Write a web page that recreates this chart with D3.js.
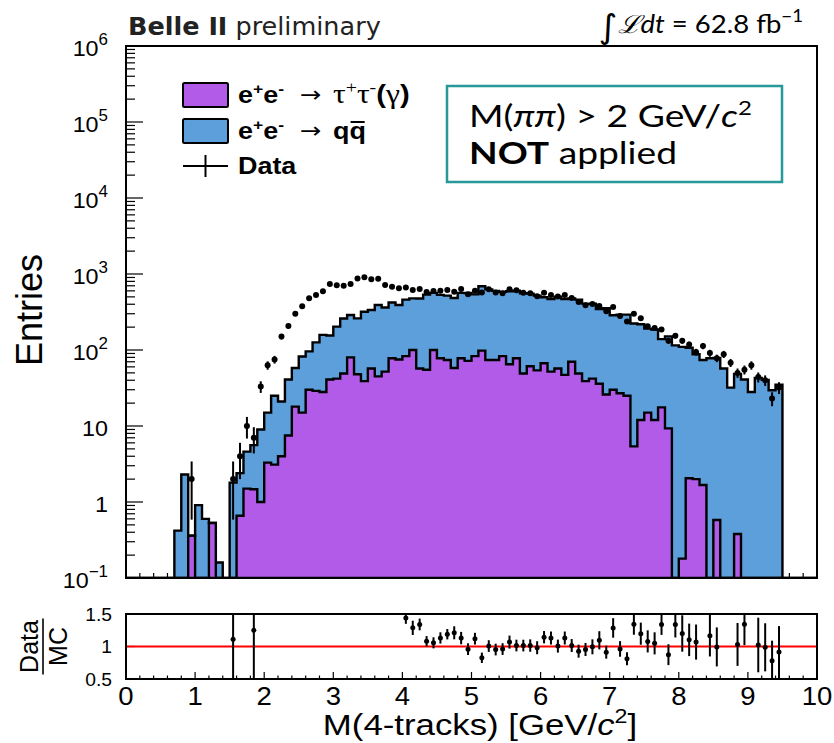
<!DOCTYPE html>
<html>
<head>
<meta charset="utf-8">
<script src="https://cdn.jsdelivr.net/npm/d3@7/dist/d3.min.js"></script>
<style>
  body { margin: 0; background: #fff; }
  svg { display: block; }
</style>
</head>
<body>
<svg id="chart" width="834" height="743"></svg>
<script>
// ---- binning: 100 bins of 0.1 GeV/c^2 from 0 to 10 ----
const xRange = [0, 10];
const binWidth = 0.1;

// e+e- -> tau+tau-(gamma) expectation per bin
const tauTau = [
  0, 0, 0, 0, 0, 0, 0, 0, 0, 0.36,
  0, 0, 0.53, 0, 0, 0, 0.66, 1.5, 1.47, 1.0,
  3.3, 3.1, 4.0, 7.5, 18, 15, 30, 29, 28, 41,
  42, 49, 80, 48, 39, 57, 45, 52, 78, 75,
  83, 100, 57, 55, 100, 78, 74, 58, 78, 72,
  83, 98, 74, 74, 83, 65, 78, 49, 61, 54,
  67, 52, 57, 47, 70, 49, 39, 42, 36, 26,
  30, 27, 25, 5.4, 12, 15, 12, 17.6, 9.3, 0,
  0.18, 2.05, 2.0, 1.67, 0, 0.58, 0, 0, 0.38, 0,
  0, 0, 0, 0, 0, 0, 0, 0, 0, 0
];

// e+e- -> q qbar expectation per bin (stacked on top of tau pairs)
const qqbar = [
  0, 0, 0, 0, 0, 0, 0, 0.42, 2.3, 0,
  0.91, 0.6, 0, 0.16, 0, 1.8, 1.74, 3.1, 4.13, 8.0,
  11.7, 21.9, 17, 33.5, 40, 67, 66, 97, 130, 114,
  161, 211, 209, 213, 280, 279, 346, 310, 344, 316,
  377, 378, 418, 481, 464, 454, 445, 426, 486, 491,
  456, 592, 553, 525, 499, 527, 525, 508, 491, 466,
  428, 416, 446, 421, 406, 411, 369, 364, 309, 329,
  257, 265, 267, 217.6, 206, 176, 174, 121.4, 141.7, 115,
  109.8, 105, 86, 72.3, 78, 77.9, 57, 32, 48.1, 41,
  28, 43, 40.5, 29.5, 35, 0, 0, 0, 0, 0
];

// observed entries per bin
const dataCounts = [
  0, 0, 0, 0, 0, 0, 0, 0, 0, 2,
  0, 0, 0, 0, 0, 2, 4, 10, 7, 33,
  63, 75, 150, 207, 300, 375, 480, 530, 595, 738,
  712, 698, 738, 870, 904, 851, 866, 716, 681, 648,
  662, 615, 636, 579, 596, 602, 617, 586, 637, 540,
  604, 570, 631, 571, 559, 632, 612, 565, 560, 510,
  566, 529, 506, 529, 483, 427, 389, 404, 378, 324,
  369, 281, 237, 299, 261, 206, 195, 186, 132, 154,
  132, 118, 94, 113, 91, 78, 88, 68, 50, 55,
  63, 44, 40, 23, 32, 0, 0, 0, 0, 0
];

// uncertainty on Data/MC per bin (data and MC statistics combined)
const ratioErr = [
  0, 0, 0, 0, 0, 0, 0, 0, 0, 0,
  0, 0, 0, 0, 0, 1.0, 0, 0, 0.8, 0,
  0, 0, 0, 0, 0, 0, 0, 0, 0, 0,
  0, 0, 0, 0, 0, 0, 0, 0, 0, 0,
  0.09, 0.11, 0.09, 0.08, 0.085, 0.087, 0.08, 0.1, 0.095, 0.09,
  0.09, 0.08, 0.09, 0.09, 0.09, 0.1, 0.09, 0.09, 0.095, 0.1,
  0.095, 0.1, 0.1, 0.1, 0.1, 0.1, 0.1, 0.115, 0.14, 0.1,
  0.15, 0.12, 0.1, 0.16, 0.17, 0.17, 0.17, 0.16, 0.16, 0.2,
  0.28, 0.25, 0.27, 0.3, 0.32, 0.3, 0.3, 0.4, 0.33, 0.32,
  0.4, 0.42, 0.37, 0.31, 0.4, 0, 0, 0, 0, 0
];

// axis tick labels
const yPowers = [-1, 0, 1, 2, 3, 4, 5, 6];
const xTickLabels = [0, 1, 2, 3, 4, 5, 6, 7, 8, 9, 10];
const ratioTickLabels = [0.5, 1, 1.5];

// ---- layout ----
const mainBox = { left: 126, right: 817, top: 46, bottom: 578 };
const ratioBox = { left: 126, right: 817, top: 614, bottom: 679 };

const colTau = "#b15be8";
const colQQ = "#5c9fdb";
const sans = "'Liberation Sans', Arial, Helvetica, sans-serif";
const serif = "'Liberation Serif', 'Times New Roman', serif";
const lato = "Lato, 'Open Sans', sans-serif";

const svg = d3.select("#chart");
svg.append("rect").attr("width", 834).attr("height", 743).attr("fill", "#fff");

const x = d3.scaleLinear().domain(xRange).range([mainBox.left, mainBox.right]);
const y = d3.scaleLog().domain([0.1, 1e6]).range([mainBox.bottom, mainBox.top]);
const yr = d3.scaleLinear().domain([0.5, 1.5]).range([ratioBox.bottom, ratioBox.top]);

const defs = svg.append("defs");
defs.append("clipPath").attr("id", "clipMain").append("rect")
  .attr("x", mainBox.left).attr("y", mainBox.top)
  .attr("width", mainBox.right - mainBox.left).attr("height", mainBox.bottom - mainBox.top);
defs.append("clipPath").attr("id", "clipRatio").append("rect")
  .attr("x", ratioBox.left).attr("y", ratioBox.top)
  .attr("width", ratioBox.right - ratioBox.left).attr("height", ratioBox.bottom - ratioBox.top);

const binLo = i => xRange[0] + i * binWidth;
const binHi = i => xRange[0] + (i + 1) * binWidth;
const binMid = i => xRange[0] + (i + 0.5) * binWidth;
const yMin = y.domain()[0];
const yOf = v => (v > yMin ? y(v) : y(yMin));

const totalMC = tauTau.map((t, i) => t + qqbar[i]);

// text anchored at (px, py), optionally widened horizontally
function label(parent, px, py, sx) {
  return parent.append("g")
    .attr("transform", `translate(${px},${py}) scale(${sx || 1},1)`)
    .append("text").attr("x", 0).attr("y", 0);
}

// ---- main panel: axis ticks (drawn underneath the histograms) ----
const gTicks = svg.append("g").attr("stroke", "#000").attr("stroke-width", 1.2);
y.ticks().forEach(t => {
  const lg = Math.log10(t);
  const major = Math.abs(lg - Math.round(lg)) < 1e-9;
  gTicks.append("line")
    .attr("x1", mainBox.left).attr("x2", mainBox.left + (major ? 17 : 9))
    .attr("y1", y(t)).attr("y2", y(t));
});
x.ticks(50).forEach(t => {
  const major = Math.abs(t - Math.round(t)) < 1e-9;
  gTicks.append("line")
    .attr("x1", x(t)).attr("x2", x(t))
    .attr("y1", mainBox.bottom).attr("y2", mainBox.bottom - (major ? 11 : 5));
});

// ---- stacked histograms ----
function stepPath(values) {
  let p = `M${x(binLo(0))},${y(yMin)}`;
  values.forEach((v, i) => {
    const yy = yOf(v);
    p += `L${x(binLo(i))},${yy}L${x(binHi(i))},${yy}`;
  });
  p += `L${x(binHi(values.length - 1))},${y(yMin)}Z`;
  return p;
}

const gHist = svg.append("g").attr("clip-path", "url(#clipMain)");
gHist.append("path").attr("d", stepPath(totalMC))
  .attr("fill", colQQ).attr("stroke", "#000").attr("stroke-width", 2.4);
gHist.append("path").attr("d", stepPath(tauTau))
  .attr("fill", colTau).attr("stroke", "#000").attr("stroke-width", 2.4);

// ---- data points with Poisson errors ----
const gData = svg.append("g").attr("clip-path", "url(#clipMain)");
dataCounts.forEach((n, i) => {
  if (n <= 0) return;
  const e = Math.sqrt(n);
  gData.append("line")
    .attr("x1", x(binMid(i))).attr("x2", x(binMid(i)))
    .attr("y1", yOf(n + e)).attr("y2", yOf(n - e))
    .attr("stroke", "#000").attr("stroke-width", 2);
  gData.append("circle")
    .attr("cx", x(binMid(i))).attr("cy", y(n)).attr("r", 3).attr("fill", "#000");
});

// ---- main frame ----
svg.append("rect")
  .attr("x", mainBox.left).attr("y", mainBox.top)
  .attr("width", mainBox.right - mainBox.left).attr("height", mainBox.bottom - mainBox.top)
  .attr("fill", "none").attr("stroke", "#000").attr("stroke-width", 2);

// y tick labels
const gYLab = svg.append("g").attr("font-family", sans).attr("font-size", 22).attr("fill", "#000");
yPowers.forEach(k => {
  const t = label(gYLab, 108, y(Math.pow(10, k)) + 10, 1.06).attr("text-anchor", "end");
  if (k === 0) t.text("1");
  else if (k === 1) t.text("10");
  else {
    t.append("tspan").text("10");
    t.append("tspan").attr("dy", -11).attr("font-size", 16).text(k < 0 ? "\u2212" + (-k) : String(k));
  }
});

// y title
svg.append("text")
  .attr("transform", `translate(42,310) rotate(-90)`)
  .attr("text-anchor", "middle").attr("font-family", sans).attr("font-size", 36)
  .text("Entries");

// ---- legend ----
const gLeg = svg.append("g").attr("font-family", sans);
const legRows = [95, 131, 166];
gLeg.append("rect").attr("x", 183).attr("y", legRows[0] - 12).attr("width", 45).attr("height", 24)
  .attr("fill", colTau).attr("stroke", "#000").attr("stroke-width", 2).attr("rx", 1.5);
gLeg.append("rect").attr("x", 183).attr("y", legRows[1] - 12).attr("width", 45).attr("height", 24)
  .attr("fill", colQQ).attr("stroke", "#000").attr("stroke-width", 2).attr("rx", 1.5);
gLeg.append("line").attr("x1", 183).attr("x2", 228).attr("y1", legRows[2]).attr("y2", legRows[2])
  .attr("stroke", "#000").attr("stroke-width", 2);
gLeg.append("line").attr("x1", 205.5).attr("x2", 205.5).attr("y1", legRows[2] - 11).attr("y2", legRows[2] + 11)
  .attr("stroke", "#000").attr("stroke-width", 2);

const legSx = 1.17;
// "e+e-  ->" part shared by both process entries
function eeArrow(rowY) {
  const t = label(gLeg, 238, rowY + 8, legSx).attr("font-size", 23).attr("font-weight", "bold");
  t.append("tspan").text("e");
  t.append("tspan").attr("font-size", 15).attr("dy", -9).text("+");
  t.append("tspan").attr("dy", 9).text("e");
  t.append("tspan").attr("font-size", 15).attr("dy", -9).text("-");
  label(gLeg, 300, rowY + 7, legSx).attr("font-family", "'DejaVu Sans', sans-serif")
    .attr("font-size", 22).text("\u2192");
}
eeArrow(legRows[0]);
const r1 = label(gLeg, 333, legRows[0] + 8, legSx).attr("font-size", 23);
r1.append("tspan").attr("font-family", serif).attr("font-size", 27).text("\u03c4");
r1.append("tspan").attr("font-family", serif).attr("font-size", 17).attr("dy", -10).text("+");
r1.append("tspan").attr("font-family", serif).attr("font-size", 27).attr("dy", 10).text("\u03c4");
r1.append("tspan").attr("font-family", serif).attr("font-size", 17).attr("dy", -10).text("-");
r1.append("tspan").attr("font-weight", "bold").attr("font-size", 25).attr("dy", 10).text("(");
r1.append("tspan").attr("font-family", serif).attr("font-size", 27).text("\u03b3");
r1.append("tspan").attr("font-weight", "bold").attr("font-size", 25).text(")");

eeArrow(legRows[1]);
const r2 = label(gLeg, 333, legRows[1] + 8, legSx).attr("font-size", 23).attr("font-weight", "bold");
r2.append("tspan").text("q");
r2.append("tspan").text("q");
// bar over the anti-quark (drawn in the same widened frame as the text)
{
  const node = r2.node();
  const ext = node.getExtentOfChar(node.getNumberOfChars() - 1);
  d3.select(node.parentNode).append("line")
    .attr("x1", ext.x + 1).attr("x2", ext.x + ext.width - 1)
    .attr("y1", -17).attr("y2", -17)
    .attr("stroke", "#000").attr("stroke-width", 2);
}
label(gLeg, 238, legRows[2] + 8, legSx).attr("font-size", 23)
  .attr("font-weight", "bold").text("Data");

// ---- selection note box ----
svg.append("rect").attr("x", 447).attr("y", 86).attr("width", 335).attr("height", 96)
  .attr("fill", "#fff").attr("stroke", "#27999b").attr("stroke-width", 2.5);
const boxSx = 1.2;
const b1 = label(svg, 469, 127, boxSx).attr("font-family", lato).attr("font-size", 31);
b1.append("tspan").text("M(");
b1.append("tspan").attr("font-style", "italic").text("\u03c0\u03c0");
b1.append("tspan").text(") > 2 GeV/");
b1.append("tspan").attr("font-style", "italic").text("c");
b1.append("tspan").attr("font-size", 20).attr("dy", -12).text("2");
const b2 = label(svg, 469, 164, boxSx).attr("font-family", lato).attr("font-size", 31);
b2.append("tspan").attr("font-weight", "bold").text("NOT");
b2.append("tspan").text(" applied");

// ---- header texts ----
const hdr = svg.append("text").attr("x", 128).attr("y", 35)
  .attr("font-family", "'DejaVu Sans', Verdana, sans-serif").attr("font-size", 25.5).attr("fill", "#222");
hdr.append("tspan").attr("font-weight", "bold").text("Belle II");
hdr.append("tspan").text(" preliminary");

const lumi = label(svg, 803, 33, 1.1).attr("text-anchor", "end")
  .attr("font-family", lato).attr("font-size", 25);
lumi.append("tspan").attr("font-family", "'DejaVu Sans', sans-serif").attr("font-size", 33).attr("dy", 5).text("\u222b");
lumi.append("tspan").attr("dy", -5).attr("font-family", "'DejaVu Serif', serif").attr("font-style", "italic").text("\u2112");
lumi.append("tspan").attr("font-style", "italic").text("dt");
lumi.append("tspan").text(" = 62.8 fb");
lumi.append("tspan").attr("font-size", 17).attr("dy", -11).text("\u22121");

// ---- ratio panel ----
const gRT = svg.append("g").attr("stroke", "#000").attr("stroke-width", 1.2);
x.ticks(50).forEach(t => {
  const major = Math.abs(t - Math.round(t)) < 1e-9;
  gRT.append("line").attr("x1", x(t)).attr("x2", x(t))
    .attr("y1", ratioBox.bottom).attr("y2", ratioBox.bottom - (major ? 7 : 3.5));
});
ratioTickLabels.forEach(t => {
  gRT.append("line").attr("x1", ratioBox.left).attr("x2", ratioBox.left + 9)
    .attr("y1", yr(t)).attr("y2", yr(t));
});

svg.append("line").attr("x1", ratioBox.left).attr("x2", ratioBox.right)
  .attr("y1", yr(1)).attr("y2", yr(1)).attr("stroke", "#f00").attr("stroke-width", 2.2);

const gRatio = svg.append("g").attr("clip-path", "url(#clipRatio)");
dataCounts.forEach((n, i) => {
  const mc = totalMC[i];
  if (n <= 0 || mc <= 0) return;
  const r = n / mc;
  if (r < yr.domain()[0] || r > yr.domain()[1]) return;
  const e = ratioErr[i];
  gRatio.append("line")
    .attr("x1", x(binMid(i))).attr("x2", x(binMid(i)))
    .attr("y1", yr(r + e)).attr("y2", yr(r - e))
    .attr("stroke", "#000").attr("stroke-width", 2);
  gRatio.append("circle").attr("cx", x(binMid(i))).attr("cy", yr(r)).attr("r", 2.5).attr("fill", "#000");
});

svg.append("rect")
  .attr("x", ratioBox.left).attr("y", ratioBox.top)
  .attr("width", ratioBox.right - ratioBox.left).attr("height", ratioBox.bottom - ratioBox.top)
  .attr("fill", "none").attr("stroke", "#000").attr("stroke-width", 2);

const gRL = svg.append("g").attr("font-family", sans).attr("font-size", 18);
ratioTickLabels.forEach(t => {
  label(gRL, 112, yr(t) + 6.5, 1.07).attr("text-anchor", "end").text(String(t));
});

const gXL = svg.append("g").attr("font-family", sans).attr("font-size", 25);
xTickLabels.forEach(t => {
  label(gXL, x(t), 705, 1.1).attr("text-anchor", "middle").text(String(t));
});

// x title
const xt = label(svg, 480, 735, 1.16).attr("text-anchor", "middle")
  .attr("font-family", sans).attr("font-size", 30);
xt.append("tspan").text("M(4-tracks) [GeV/");
xt.append("tspan").attr("font-style", "italic").text("c");
xt.append("tspan").attr("font-size", 20).attr("dy", -12).text("2");
xt.append("tspan").attr("dy", 12).text("]");

// Data / MC title as a fraction
const fy = (ratioBox.top + ratioBox.bottom) / 2;
const gFrac = svg.append("g").attr("transform", `translate(43,${fy}) rotate(-90)`)
  .attr("font-family", sans).attr("font-size", 25).attr("text-anchor", "middle");
gFrac.append("text").attr("x", 0).attr("y", -5).text("Data");
gFrac.append("text").attr("x", 0).attr("y", 24).text("MC");
gFrac.append("line").attr("x1", -28).attr("x2", 28).attr("y1", 0).attr("y2", 0)
  .attr("stroke", "#000").attr("stroke-width", 1.6);
</script>
</body>
</html>
